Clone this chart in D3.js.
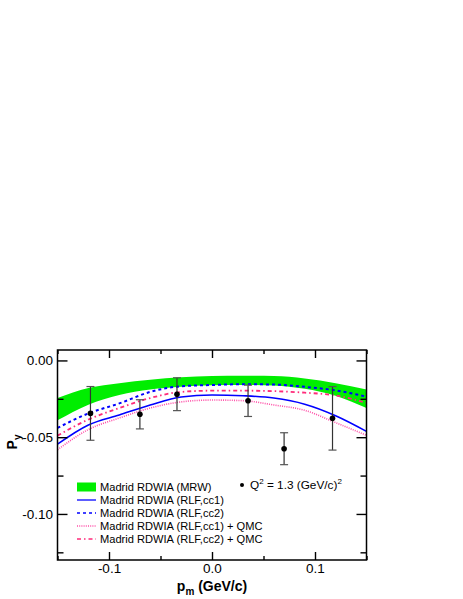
<!DOCTYPE html>
<html>
<head>
<meta charset="utf-8">
<script src="https://cdn.jsdelivr.net/npm/d3@7"></script>
<style>
  body { margin: 0; background: #fff; }
  svg { display: block; font-family: "Liberation Sans", Arial, sans-serif; }
</style>
</head>
<body>
<div id="chart"></div>
<script>
// theory curves, sampled on a common p_m grid (GeV/c)
const pm        = [-0.15, -0.12, -0.09, -0.06, -0.03, 0.00, 0.03, 0.06, 0.09, 0.12, 0.15];
const mrwUpper  = [-0.0245, -0.0180, -0.0148, -0.0125, -0.0110, -0.0102, -0.0100, -0.0102, -0.0118, -0.0148, -0.0190];
const mrwLower  = [-0.0390, -0.0288, -0.0225, -0.0190, -0.0172, -0.0162, -0.0160, -0.0163, -0.0185, -0.0230, -0.0310];
const rlfCc1    = [-0.0545, -0.0420, -0.0355, -0.0290, -0.0238, -0.0225, -0.0230, -0.0245, -0.0285, -0.0360, -0.0462];
const rlfCc2    = [-0.0440, -0.0345, -0.0280, -0.0205, -0.0168, -0.0160, -0.0155, -0.0157, -0.0172, -0.0195, -0.0236];
const rlfCc1Qmc = [-0.0582, -0.0450, -0.0375, -0.0310, -0.0270, -0.0258, -0.0262, -0.0290, -0.0325, -0.0405, -0.0488];
const rlfCc2Qmc = [-0.0490, -0.0385, -0.0310, -0.0245, -0.0205, -0.0197, -0.0197, -0.0200, -0.0210, -0.0228, -0.0277];

// measured points, Q^2 = 1.3 (GeV/c)^2
const dataPm  = [-0.118, -0.070, -0.034, 0.035, 0.070, 0.117];
const dataPy  = [-0.0345, -0.0351, -0.0220, -0.0263, -0.0575, -0.0377];
const dataErr = [0.0175, 0.0095, 0.0107, 0.0102, 0.0104, 0.0207];

const xMajor = [-0.1, 0.0, 0.1];
const xMajorLabels = ["-0.1", "0.0", "0.1"];
const xMinor = [-0.15, -0.05, 0.05, 0.15];
const yMajor = [0.0, -0.05, -0.10];
const yMajorLabels = ["0.00", "-0.05", "-0.10"];
const yMinor = [-0.025, -0.075, -0.125];

const legendNames = [
  "Madrid RDWIA (MRW)",
  "Madrid RDWIA (RLF,cc1)",
  "Madrid RDWIA (RLF,cc2)",
  "Madrid RDWIA (RLF,cc1) + QMC",
  "Madrid RDWIA (RLF,cc2) + QMC"
];

const W = 463, H = 599;
const L = 57.5, R = 366.5, T = 350, B = 560;

const x = d3.scaleLinear().domain([-0.15, 0.15]).range([L, R]);
const y = d3.scaleLinear().domain([-0.13, 0.0068]).range([B, T]);

const svg = d3.select("#chart").append("svg")
  .attr("width", W).attr("height", H);

svg.append("clipPath").attr("id", "clip")
  .append("rect").attr("x", L).attr("y", T).attr("width", R - L).attr("height", B - T);

const plot = svg.append("g").attr("clip-path", "url(#clip)");

// green band
const band = d3.area()
  .x(i => x(pm[i])).y0(i => y(mrwLower[i])).y1(i => y(mrwUpper[i]))
  .curve(d3.curveMonotoneX);
plot.append("path").attr("d", band(d3.range(pm.length)))
  .attr("fill", "#00ee00");

const styles = [
  { vals: rlfCc1,    color: "#0000ff", dash: null,        w: 1.6 },
  { vals: rlfCc2,    color: "#0000ff", dash: "3,3",       w: 2 },
  { vals: rlfCc1Qmc, color: "#ff4fa8", dash: "1,1.2",     w: 1.6 },
  { vals: rlfCc2Qmc, color: "#ff2a7a", dash: "4,3,1.5,3", w: 1.8 }
];

styles.forEach(s => {
  const line = d3.line().x(i => x(pm[i])).y(i => y(s.vals[i])).curve(d3.curveMonotoneX);
  plot.append("path").attr("d", line(d3.range(pm.length)))
    .attr("fill", "none").attr("stroke", s.color)
    .attr("stroke-width", s.w)
    .attr("stroke-dasharray", s.dash);
});

// error bars and points
const pts = svg.append("g");
dataPm.forEach((p, i) => {
  const cx = x(p), y1 = y(dataPy[i] + dataErr[i]), y2 = y(dataPy[i] - dataErr[i]);
  pts.append("line").attr("x1", cx).attr("x2", cx).attr("y1", y1).attr("y2", y2)
    .attr("stroke", "#333").attr("stroke-width", 1.2);
  [y1, y2].forEach(yy => pts.append("line")
    .attr("x1", cx - 4).attr("x2", cx + 4).attr("y1", yy).attr("y2", yy)
    .attr("stroke", "#555").attr("stroke-width", 1.2));
  pts.append("circle").attr("cx", cx).attr("cy", y(dataPy[i])).attr("r", 2.8).attr("fill", "#000");
});

// axes (ticks point inward, mirrored on top / right)
function styleAxis(g) {
  g.select(".domain").remove();
  g.selectAll("line").attr("stroke", "#000").attr("stroke-width", 1.4);
  g.selectAll("text").attr("font-size", 13.5).attr("fill", "#000")
    .attr("font-family", '"Liberation Sans", Arial, sans-serif');
}

svg.append("g").attr("transform", `translate(0,${B})`)
  .call(d3.axisBottom(x).tickValues(xMajor).tickSize(-8).tickPadding(3.5)
    .tickFormat((d, i) => xMajorLabels[i]))
  .call(styleAxis);
svg.append("g").attr("transform", `translate(0,${B})`)
  .call(d3.axisBottom(x).tickValues(xMinor).tickSize(-4).tickFormat(""))
  .call(styleAxis);
svg.append("g").attr("transform", `translate(0,${T})`)
  .call(d3.axisTop(x).tickValues(xMajor).tickSize(-8).tickFormat(""))
  .call(styleAxis);
svg.append("g").attr("transform", `translate(0,${T})`)
  .call(d3.axisTop(x).tickValues(xMinor).tickSize(-4).tickFormat(""))
  .call(styleAxis);

svg.append("g").attr("transform", `translate(${L},0)`)
  .call(d3.axisLeft(y).tickValues(yMajor).tickSize(-10).tickPadding(4.5)
    .tickFormat((d, i) => yMajorLabels[i]))
  .call(styleAxis);
svg.append("g").attr("transform", `translate(${L},0)`)
  .call(d3.axisLeft(y).tickValues(yMinor).tickSize(-6).tickFormat(""))
  .call(styleAxis);
svg.append("g").attr("transform", `translate(${R},0)`)
  .call(d3.axisRight(y).tickValues(yMajor).tickSize(-10).tickFormat(""))
  .call(styleAxis);
svg.append("g").attr("transform", `translate(${R},0)`)
  .call(d3.axisRight(y).tickValues(yMinor).tickSize(-6).tickFormat(""))
  .call(styleAxis);

svg.append("rect").attr("x", L).attr("y", T).attr("width", R - L).attr("height", B - T)
  .attr("fill", "none").attr("stroke", "#000").attr("stroke-width", 1.5);

// axis titles
const xt = svg.append("text").attr("x", (L + R) / 2).attr("y", 591)
  .attr("text-anchor", "middle").attr("font-weight", "bold").attr("font-size", 14);
xt.append("tspan").text("p");
xt.append("tspan").attr("font-size", 10).attr("dy", 4).text("m");
xt.append("tspan").attr("dy", -4).text(" (GeV/c)");

const yt = svg.append("text").attr("transform", "translate(17,442) rotate(-90)")
  .attr("text-anchor", "middle").attr("font-weight", "bold").attr("font-size", 14);
yt.append("tspan").text("P");
yt.append("tspan").attr("font-size", 10).attr("dy", 4).text("y");

// legend
const lg = svg.append("g").attr("font-size", 11.1);
const rowY = [487, 500, 513, 526, 539];
lg.append("rect").attr("x", 77).attr("y", rowY[0] - 4.5).attr("width", 19).attr("height", 9)
  .attr("fill", "#00ee00");
styles.forEach((s, i) => {
  lg.append("line").attr("x1", 77).attr("x2", 96).attr("y1", rowY[i + 1]).attr("y2", rowY[i + 1])
    .attr("stroke", s.color).attr("stroke-width", s.w * 0.8).attr("stroke-dasharray", s.dash);
});
legendNames.forEach((n, i) => {
  lg.append("text").attr("x", 100).attr("y", rowY[i] + 4).text(n);
});

lg.append("circle").attr("cx", 242).attr("cy", 485).attr("r", 2).attr("fill", "#000");
const qt = lg.append("text").attr("x", 250).attr("y", 489).attr("font-size", 11.8);
qt.append("tspan").text("Q");
qt.append("tspan").attr("font-size", 8).attr("dy", -5).text("2");
qt.append("tspan").attr("dy", 5).text(" = 1.3 (GeV/c)");
qt.append("tspan").attr("font-size", 8).attr("dy", -5).text("2");
</script>
</body>
</html>
